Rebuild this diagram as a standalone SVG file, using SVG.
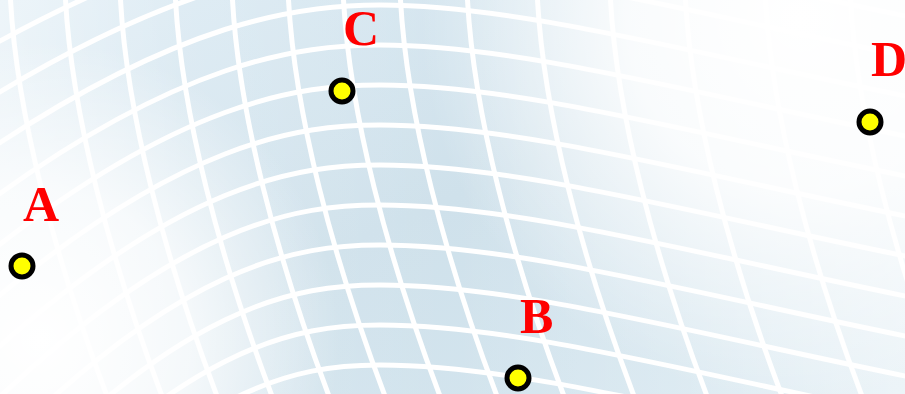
<svg xmlns="http://www.w3.org/2000/svg" width="905" height="394" viewBox="0 0 905 394">
<style>
.row, .col { fill: none; stroke: #ffffff; stroke-width: 5; stroke-linecap: round; }
.pt { fill: #ffff00; stroke: #000000; stroke-width: 5; }
.lbl { font-family: "Liberation Serif", "Times New Roman", serif; font-weight: bold; font-size: 50px; fill: #ff0000; }
</style>
<defs>
<linearGradient id="base" x1="0" y1="0" x2="1" y2="1">
<stop offset="0" stop-color="#dcebf4"/>
<stop offset="0.5" stop-color="#cfe1eb"/>
<stop offset="1" stop-color="#d6e7f0"/>
</linearGradient>
<linearGradient id="fadeX" x1="0" y1="0" x2="1" y2="0">
<stop offset="0" stop-color="#ffffff" stop-opacity="0.5"/>
<stop offset="0.2" stop-color="#ffffff" stop-opacity="0.15"/>
<stop offset="0.5" stop-color="#ffffff" stop-opacity="0"/>
<stop offset="0.75" stop-color="#ffffff" stop-opacity="0.2"/>
<stop offset="1" stop-color="#ffffff" stop-opacity="0.55"/>
</linearGradient>
<radialGradient id="fadeBL" cx="40" cy="340" r="300" gradientUnits="userSpaceOnUse">
<stop offset="0" stop-color="#ffffff" stop-opacity="1"/>
<stop offset="0.5" stop-color="#ffffff" stop-opacity="0.75"/>
<stop offset="1" stop-color="#ffffff" stop-opacity="0"/>
</radialGradient>
<radialGradient id="fadeTR" cx="800" cy="20" r="380" gradientUnits="userSpaceOnUse">
<stop offset="0" stop-color="#ffffff" stop-opacity="1"/>
<stop offset="0.45" stop-color="#ffffff" stop-opacity="0.85"/>
<stop offset="1" stop-color="#ffffff" stop-opacity="0"/>
</radialGradient>
</defs>

<g id="background">
<rect x="0" y="0" width="905" height="394" fill="url(#base)"/>
<g id="grid-rows">
<path class="row" d="M -20,52 C 180,-60 300,-75 380,-75 C 520,-75 700,-25 925,20"/>
<path class="row" d="M -20,104 C 180,-20 300,-35 380,-35 C 520,-35 700,15 925,60"/>
<path class="row" d="M -20,156 C 180,20 300,5 380,5 C 520,5 700,55 925,100"/>
<path class="row" d="M -20,208 C 180,60 300,45 380,45 C 520,45 700,95 925,140"/>
<path class="row" d="M -20,260 C 180,100 300,85 380,85 C 520,85 700,135 925,180"/>
<path class="row" d="M -20,312 C 180,140 300,125 380,125 C 520,125 700,175 925,220"/>
<path class="row" d="M -20,364 C 180,180 300,165 380,165 C 520,165 700,215 925,260"/>
<path class="row" d="M -20,416 C 180,220 300,205 380,205 C 520,205 700,255 925,300"/>
<path class="row" d="M -20,468 C 180,260 300,245 380,245 C 520,245 700,295 925,340"/>
<path class="row" d="M -20,520 C 180,300 300,285 380,285 C 520,285 700,335 925,380"/>
<path class="row" d="M -20,572 C 180,340 300,325 380,325 C 520,325 700,375 925,420"/>
<path class="row" d="M -20,624 C 180,380 300,365 380,365 C 520,365 700,415 925,460"/>
</g>
<g id="grid-cols">
<path class="col" d="M 10,-10 C 15,110 55,260 110,404"/>
<path class="col" d="M 65,-10 C 70,110 110,260 165,404"/>
<path class="col" d="M 120,-10 C 125,110 165,260 220,404"/>
<path class="col" d="M 175,-10 C 180,110 220,260 275,404"/>
<path class="col" d="M 232,-10 C 237,110 277,260 332,404"/>
<path class="col" d="M 288,-10 C 293,110 333,260 388,404"/>
<path class="col" d="M 343,-10 C 348,110 388,260 443,404"/>
<path class="col" d="M 400,-10 C 405,110 445,260 500,404"/>
<path class="col" d="M 467,-10 C 472,110 512,260 567,404"/>
<path class="col" d="M 537,-10 C 542,110 582,260 637,404"/>
<path class="col" d="M 610,-10 C 615,110 655,260 710,404"/>
<path class="col" d="M 685,-10 C 690,110 730,260 785,404"/>
<path class="col" d="M 765,-10 C 770,110 810,260 865,404"/>
<path class="col" d="M 850,-10 C 855,110 895,260 950,404"/>
</g>
<rect x="0" y="0" width="905" height="394" fill="url(#fadeX)"/>
<rect x="0" y="0" width="905" height="394" fill="url(#fadeBL)"/>
<rect x="0" y="0" width="905" height="394" fill="url(#fadeTR)"/>
</g>

<g id="point-A">
<circle class="pt" cx="22" cy="266" r="11"/>
<text class="lbl" x="23" y="221">A</text>
</g>
<g id="point-B">
<circle class="pt" cx="518" cy="378" r="11"/>
<text class="lbl" x="520" y="333">B</text>
</g>
<g id="point-C">
<circle class="pt" cx="342" cy="91" r="11"/>
<text class="lbl" x="343" y="45">C</text>
</g>
<g id="point-D">
<circle class="pt" cx="870" cy="122" r="11"/>
<text class="lbl" x="871" y="76">D</text>
</g>
</svg>
